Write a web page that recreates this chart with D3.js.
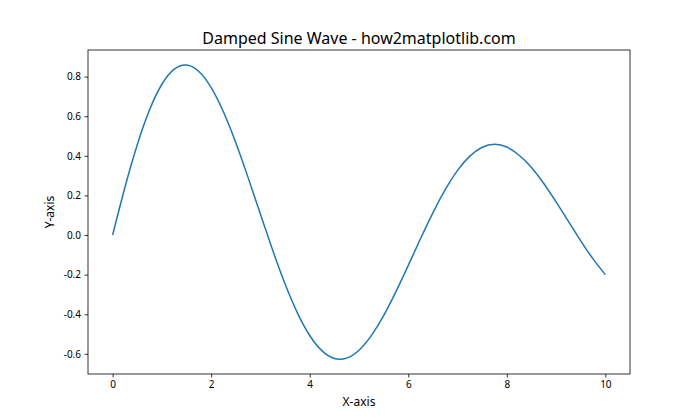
<!DOCTYPE html>
<html><head><meta charset="utf-8">
<script src="https://cdn.jsdelivr.net/npm/d3@7"></script>
<style>body{margin:0;background:#fff}svg{display:block;font-family:"Noto Sans","Open Sans",sans-serif}</style>
</head><body>
<svg id="c" width="700" height="420"></svg>
<script>
const xValues = [0,0.25,0.5,0.75,1,1.25,1.5,1.75,2,2.25,2.5,2.75,3,3.25,3.5,3.75,4,4.25,4.5,4.75,5,5.25,5.5,5.75,6,6.25,6.5,6.75,7,7.25,7.5,7.75,8,8.25,8.5,8.75,9,9.25,9.5,9.75,10];
const yValues = [0,0.2413,0.4560,0.6324,0.7614,0.8375,0.8586,0.8260,0.7445,0.6213,0.4661,0.2899,0.1045,-0.0782,-0.2472,-0.3928,-0.5073,-0.5851,-0.6233,-0.6214,-0.5816,-0.5081,-0.4071,-0.2860,-0.1534,-0.0178,0.1123,0.2291,0.3263,0.3983,0.4431,0.4588,0.4446,0.4027,0.3413,0.2604,0.1676,0.0691,-0.0291,-0.1205,-0.2001];
const xTicks = [0,2,4,6,8,10];
const yTicks = [-0.6,-0.4,-0.2,0.0,0.2,0.4,0.6,0.8];
const title = "Damped Sine Wave - how2matplotlib.com";
const xLabel = "X-axis", yLabel = "Y-axis";

const L=88, R=630, T=50, B=374;
const svg = d3.select("#c");
const x = d3.scaleLinear().domain([-0.5,10.5]).range([L,R]);
const y = d3.scaleLinear().domain([-0.7017,0.9343]).range([B,T]);

const line = d3.line().x((d,i)=>x(xValues[i])).y(d=>y(d)).curve(d3.curveNatural);
svg.append("path").datum(yValues).attr("d",line).attr("fill","none")
  .attr("stroke","#1f77b4").attr("stroke-width",1.5).attr("stroke-linejoin","round");

const xa = svg.append("g").attr("transform",`translate(0,${B})`)
  .call(d3.axisBottom(x).tickValues(xTicks).tickFormat(d3.format("d")).tickSize(3.5).tickPadding(3.5));
const ya = svg.append("g").attr("transform",`translate(${L},0)`)
  .call(d3.axisLeft(y).tickValues(yTicks).tickFormat(d=>d3.format(".1f")(d).replace("−","-")).tickSize(3.5).tickPadding(3.5));
[xa,ya].forEach(g=>{g.select(".domain").remove();g.selectAll("text").attr("font-size",10).attr("fill","#000").style("font-family","'Noto Sans','Open Sans',sans-serif");g.selectAll("line").attr("stroke","#000").attr("stroke-width",0.8);});

svg.append("rect").attr("x",L).attr("y",T).attr("width",R-L).attr("height",B-T)
  .attr("fill","none").attr("stroke","#000").attr("stroke-width",0.8);

svg.append("text").attr("x",(L+R)/2).attr("y",T-6).attr("text-anchor","middle")
  .attr("font-size",16).text(title);
svg.append("text").attr("x",(L+R)/2).attr("y",406).attr("text-anchor","middle")
  .attr("font-size",12).text(xLabel);
svg.append("text").attr("transform",`translate(54,${(T+B)/2}) rotate(-90)`).attr("text-anchor","middle")
  .attr("font-size",12).text(yLabel);
</script>
</body></html>
